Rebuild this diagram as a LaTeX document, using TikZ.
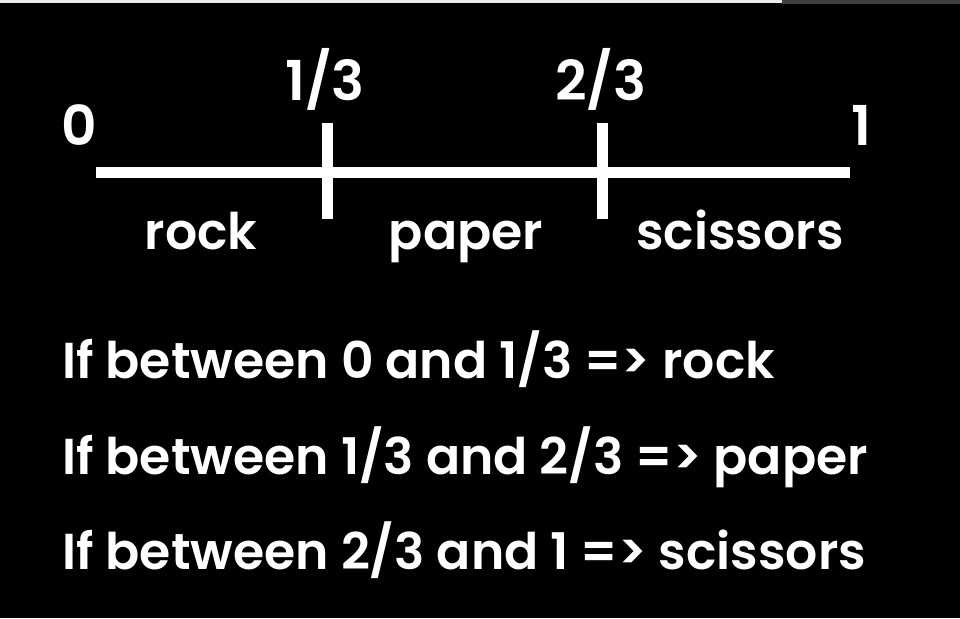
\documentclass[tikz,border=0pt]{standalone}
\usepackage{fontspec}
\setmainfont{Poppins SemiBold}
\usetikzlibrary{positioning}

\begin{document}
\begin{tikzpicture}[
    x=1pt, y=-1pt,
    axis/.style={draw=white, line width=11pt},
    tick/.style={draw=white, line width=11pt},
    num/.style={text=white, font=\fontsize{55}{60}\selectfont, inner sep=0pt},
    part/.style={text=white, font=\fontsize{50.5}{56}\selectfont, inner sep=0pt, anchor=base},
    rule/.style={text=white, font=\fontsize{50.5}{56}\selectfont, inner sep=0pt, anchor=base west}
]
    % BACKGROUND AND FRAME
    \fill[black] (0,0) rectangle (960,618);
    \useasboundingbox (0,0) rectangle (960,618);
    \fill[white!92!black] (0,0) rectangle (782,3);
    \fill[black!75!white] (782,0) rectangle (960,4);

    % NUMBER LINE
    \coordinate (lo) at (96,172.5);
    \coordinate (hi) at (850,172.5);
    \draw[axis] (lo) -- (hi);
    \coordinate (t1a) at (327.5,123);
    \coordinate (t1b) at (327.5,219);
    \coordinate (t2a) at (602.5,123);
    \coordinate (t2b) at (602.5,219);
    \draw[tick] (t1a) -- (t1b);
    \draw[tick] (t2a) -- (t2b);

    % END AND TICK LABELS
    \node (n0) [num] at (79,125) {0};
    \node (n1) [num] at (861,125) {1};
    \node (nthird) [num] at (325,79) {1/3};
    \node (ntwothirds) [num] at (601,79) {2/3};

    % SEGMENT NAMES
    \node (rock) [part] at (201,249) {rock};
    \node (paper) [part] at (466,249) {paper};
    \node (scissors) [part] at (740,249) {scissors};

    % RULES
    \node (r1) [rule] at (62,378) {If between 0 and 1/3 => rock};
    \node (r2) [rule] at (62,474) {If between 1/3 and 2/3 => paper};
    \node (r3) [rule] at (62,569) {If between 2/3 and 1 => scissors};
\end{tikzpicture}
\end{document}
